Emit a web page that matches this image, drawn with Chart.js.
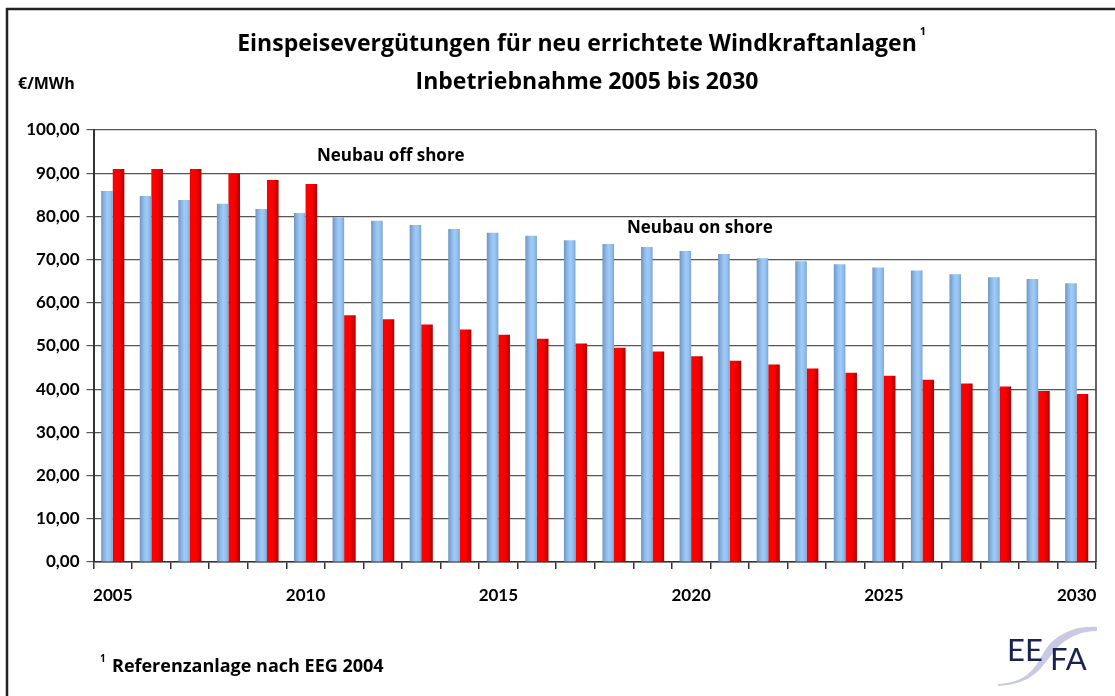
<!DOCTYPE html>
<html>
<head>
<meta charset="utf-8">
<title>Einspeisevergütungen Windkraft</title>
<script src="https://cdn.jsdelivr.net/npm/chart.js@4/dist/chart.umd.min.js"></script>
<style>
  html, body { margin: 0; padding: 0; background: #fff; }
  #wrap { width: 1115px; height: 696px; position: relative; }
</style>
</head>
<body>
<div id="wrap"><canvas id="chart" width="1115" height="696"></canvas></div>
<script>
// years of commissioning
const years = [2005, 2006, 2007, 2008, 2009, 2010, 2011, 2012, 2013, 2014, 2015, 2016, 2017,
  2018, 2019, 2020, 2021, 2022, 2023, 2024, 2025, 2026, 2027, 2028, 2029, 2030];
// €/MWh
const onShore = [85.9, 84.7, 83.8, 82.9, 81.7, 80.8, 79.8, 79.0, 78.0, 77.1, 76.2, 75.5, 74.5,
  73.6, 72.9, 72.0, 71.3, 70.3, 69.6, 68.9, 68.2, 67.5, 66.6, 65.9, 65.5, 64.5];
const offShore = [91.0, 91.0, 91.0, 89.9, 88.4, 87.5, 57.1, 56.2, 55.0, 53.8, 52.6, 51.7, 50.6,
  49.6, 48.7, 47.6, 46.6, 45.7, 44.8, 43.8, 43.1, 42.2, 41.3, 40.6, 39.6, 38.9];
const xTickLabels = [2005, 2010, 2015, 2020, 2025, 2030];
const yTicks = [0, 10, 20, 30, 40, 50, 60, 70, 80, 90, 100];

const FONT = "Lato, 'DejaVu Sans', sans-serif";        // numbers
const WFONT = "'Open Sans', Lato, sans-serif";         // words

// horizontal gradient per bar (needs element geometry, so chart is updated once after creation)
function barGradient(stops, fallback) {
  return (c) => {
    const el = c.element;
    if (!el || !el.width || isNaN(el.x)) return fallback;
    const g = c.chart.ctx.createLinearGradient(el.x - el.width / 2, 0, el.x + el.width / 2, 0);
    stops.forEach(([o, col]) => g.addColorStop(o, col));
    return g;
  };
}

const blueStops = [[0, "#6f95c2"], [0.3, "#8db8e6"], [0.55, "#9ecbf8"], [0.8, "#92bfee"], [1, "#7aa2cf"]];
const redStops = [[0, "#e40000"], [0.12, "#ff0000"], [0.55, "#f80000"], [0.8, "#d00000"], [1, "#a80000"]];

// texts and decorations around the plot
const decorations = {
  id: "decorations",
  afterDraw(chart) {
    const ctx = chart.ctx;
    const area = chart.chartArea;
    ctx.save();

    // outer frame (top + left)
    ctx.strokeStyle = "#222";
    ctx.lineWidth = 2.5;
    ctx.beginPath();
    ctx.moveTo(7, 700);
    ctx.lineTo(7, 9);
    ctx.lineTo(1120, 9);
    ctx.stroke();

    // right border of plot area
    ctx.strokeStyle = "#333";
    ctx.lineWidth = 1.5;
    ctx.beginPath();
    ctx.moveTo(area.right, area.top);
    ctx.lineTo(area.right, area.bottom);
    ctx.stroke();

    ctx.fillStyle = "#000";
    ctx.textBaseline = "middle";

    // title
    ctx.font = "bold 23px " + WFONT;
    ctx.textAlign = "center";
    const t1 = "Einspeisevergütungen für neu errichtete Windkraftanlagen";
    ctx.fillText(t1, 577, 44);
    const w1 = ctx.measureText(t1).width;
    ctx.font = "bold 11px " + WFONT;
    ctx.textAlign = "left";
    ctx.fillText("1", 577 + w1 / 2 + 3, 32);
    ctx.font = "bold 23px " + WFONT;
    ctx.textAlign = "center";
    ctx.fillText("Inbetriebnahme 2005 bis 2030", 587, 82);

    // unit
    ctx.font = "bold 16px " + WFONT;
    ctx.textAlign = "left";
    ctx.fillText("€/MWh", 18, 84);

    // series labels
    ctx.font = "bold 17px " + WFONT;
    ctx.fillText("Neubau off shore", 317, 156);
    ctx.fillText("Neubau on shore", 627, 228);

    // footnote
    ctx.font = "bold 10px " + WFONT;
    ctx.fillText("1", 100, 659);
    ctx.font = "bold 18px " + WFONT;
    ctx.fillText("Referenzanlage nach EEG 2004", 112, 667);

    // EEFA logo
    ctx.fillStyle = "rgba(185,188,222,0.8)";
    ctx.beginPath();
    ctx.moveTo(998, 684);
    ctx.bezierCurveTo(1040, 682, 1038, 652, 1054, 640);
    ctx.bezierCurveTo(1068, 629, 1082, 626, 1097, 627);
    ctx.lineTo(1097, 631);
    ctx.bezierCurveTo(1082, 631, 1071, 636, 1060, 645);
    ctx.bezierCurveTo(1044, 660, 1040, 684, 998, 686);
    ctx.closePath();
    ctx.fill();
    ctx.fillStyle = "#1b2150";
    ctx.font = "31px " + FONT;
    ctx.textAlign = "left";
    ctx.fillText("EE", 1007, 651);
    ctx.fillText("FA", 1050, 660);

    ctx.restore();
  }
};

const chart = new Chart(document.getElementById("chart"), {
  type: "bar",
  data: {
    labels: years,
    datasets: [
      {
        label: "Neubau on shore",
        data: onShore,
        backgroundColor: barGradient(blueStops, "#8fbbe8"),
        borderWidth: 0
      },
      {
        label: "Neubau off shore",
        data: offShore,
        backgroundColor: barGradient(redStops, "#ee0000"),
        borderWidth: 0
      }
    ]
  },
  options: {
    responsive: false,
    animation: false,
    devicePixelRatio: 1,
    layout: { padding: { top: 130, right: 19, left: 0, bottom: 0 } },
    datasets: { bar: { barPercentage: 1.0, categoryPercentage: 0.6 } },
    plugins: {
      legend: { display: false },
      title: { display: false },
      tooltip: { enabled: false }
    },
    scales: {
      x: {
        offset: true,
        grid: { offset: true, drawOnChartArea: false, tickLength: 7, color: "#333", lineWidth: 1.5 },
        border: { color: "#333", width: 1.5 },
        ticks: {
          autoSkip: false,
          maxRotation: 0,
          padding: 16,
          color: "#000",
          font: { family: FONT, size: 17, weight: "bold" },
          callback: function (v, i) {
            const y = years[i];
            return xTickLabels.includes(y) ? String(y) : "";
          }
        },
        afterFit(scale) { scale.height = 134; }
      },
      y: {
        min: 0,
        max: 100,
        afterBuildTicks(scale) { scale.ticks = yTicks.map(v => ({ value: v })); },
        grid: { color: "#555", lineWidth: 1.2, tickLength: 7 },
        border: { color: "#333", width: 2 },
        ticks: {
          padding: 7,
          color: "#000",
          font: { family: FONT, size: 17, weight: "bold" },
          callback: v => v.toFixed(2).replace(".", ",")
        },
        afterFit(scale) { scale.width = 93.5; }
      }
    }
  },
  plugins: [decorations]
});
chart.update();
</script>
</body>
</html>
